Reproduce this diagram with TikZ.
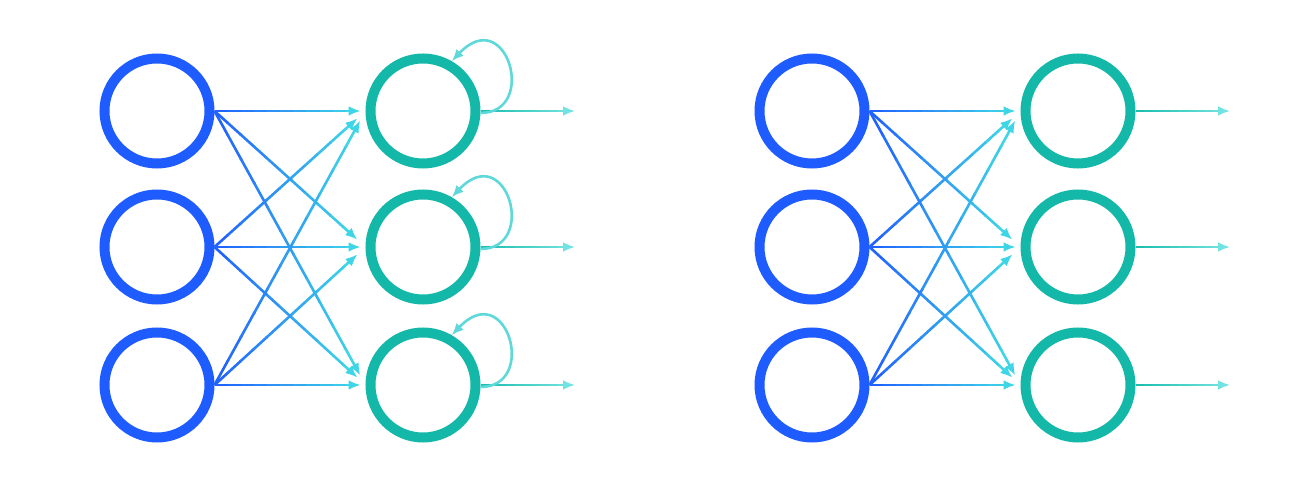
\documentclass[tikz,border=0pt]{standalone}
\usetikzlibrary{arrows.meta,calc}
\definecolor{inblue}{HTML}{1F5CFF}
\definecolor{outteal}{HTML}{14B8A8}
\definecolor{edgeA}{HTML}{2163FF}
\definecolor{edgeB}{HTML}{3ED6E6}
\definecolor{outA}{HTML}{1DBFB0}
\definecolor{outB}{HTML}{72E2E2}
\definecolor{loopc}{HTML}{5ED8D8}
\tikzset{
  neuron/.style={circle, minimum size=105pt, inner sep=0pt, line width=10pt, fill=white},
  inneuron/.style={neuron, draw=inblue},
  outneuron/.style={neuron, draw=outteal},
  edgeline/.style={line width=2.6pt},
  tipstyle/.style={-{Latex[length=12pt,width=10pt]}},
}
\newcommand{\gradseg}[4]{% start coord, end coord, colour A, colour B
  \foreach \k in {0,...,9}{%
    \pgfmathsetmacro{\ta}{\k*0.09}%
    \pgfmathsetmacro{\tb}{(\k+1)*0.09+0.005}%
    \pgfmathtruncatemacro{\pc}{100-\k*10}%
    \draw[edgeline, draw=#3!\pc!#4] ($(#1)!\ta!(#2)$) -- ($(#1)!\tb!(#2)$);
  }%
  \draw[edgeline, draw=#4, tipstyle] ($(#1)!0.9!(#2)$) -- (#2);
}
\newcommand{\gradedge}[3]{% from node, to node, setback
  \coordinate (gs) at (#1.east);
  \coordinate (ge) at ($(#2.west)!#3!(gs)$);
  \gradseg{gs}{ge}{edgeA}{edgeB}
}
\newcommand{\gradout}[2]{%
  \coordinate (gs) at (#1.east);
  \gradseg{gs}{#2}{outA}{outB}
}
\begin{document}
\begin{tikzpicture}[x=1pt,y=1pt]
\useasboundingbox (0,0) rectangle (1310,479);
% ---------- left network (recurrent) ----------
\foreach \i/\yy in {1/368,2/232,3/94}{
  \node[inneuron] (la\i) at (157,\yy) {};
  \node[outneuron] (lb\i) at (423,\yy) {};
  \coordinate (lo\i) at (575,\yy);
}
\foreach \i in {1,2,3}{
  \foreach \j in {1,2,3}{
    \pgfmathsetmacro{\sb}{\i==\j ? 5 : 11}
    \gradedge{la\i}{lb\j}{\sb pt}
  }
}
\foreach \i in {1,2,3}{
  \gradout{lb\i}{lo\i}
  \draw[edgeline, draw=loopc, tipstyle]
    ([yshift=-2pt]lb\i.east) .. controls +(58,0) and +(55,58) .. (lb\i.60);
}
% ---------- right network (feed-forward) ----------
\foreach \i/\yy in {1/368,2/232,3/94}{
  \node[inneuron] (ra\i) at (812,\yy) {};
  \node[outneuron] (rb\i) at (1078,\yy) {};
  \coordinate (ro\i) at (1230,\yy);
}
\foreach \i in {1,2,3}{
  \foreach \j in {1,2,3}{
    \pgfmathsetmacro{\sb}{\i==\j ? 5 : 11}
    \gradedge{ra\i}{rb\j}{\sb pt}
  }
}
\foreach \i in {1,2,3}{
  \gradout{rb\i}{ro\i}
}
\end{tikzpicture}
\end{document}
